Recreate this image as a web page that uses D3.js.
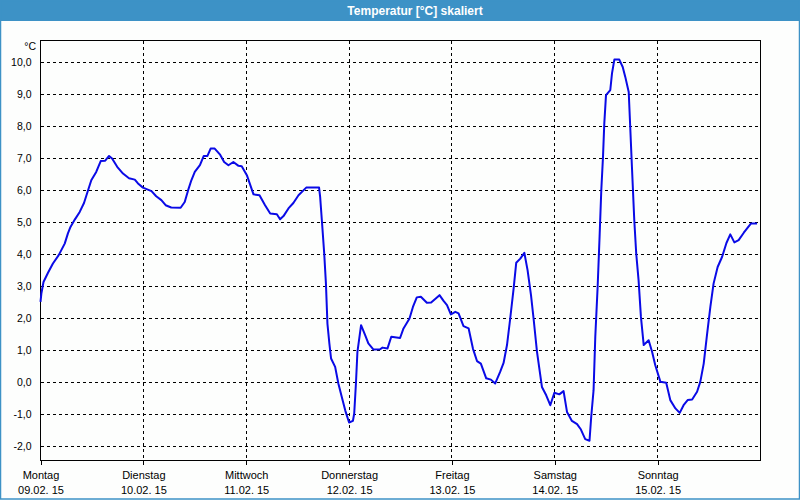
<!DOCTYPE html>
<html><head><meta charset="utf-8">
<script src="https://cdn.jsdelivr.net/npm/d3@7"></script>
<style>
html,body{margin:0;padding:0;background:#fff;}
svg{display:block;}
text{font-family:"Liberation Sans",Arial,sans-serif;}
</style></head>
<body>
<svg id="chart" width="800" height="500"></svg>
<script>
// ---- data ----
const title = "Temperatur [°C] skaliert";
const unitLabel = "°C";
const startDate = new Date(2015, 1, 9, 0, 0);
const dayNames = ["Montag","Dienstag","Mittwoch","Donnerstag","Freitag","Samstag","Sonntag"];
const dayDates = ["09.02. 15","10.02. 15","11.02. 15","12.02. 15","13.02. 15","14.02. 15","15.02. 15"];
const yTicks = [-2,-1,0,1,2,3,4,5,6,7,8,9,10];
// hours since Montag 09.02.15 00:00
const hours = [0.0,0.2,0.7,1.75,2.9,4.25,5.65,6.4,7.0,8.0,9.15,10.15,11.1,11.85,13.0,14.05,15.1,16.0,16.7,17.9,19.25,20.65,22.0,22.75,23.9,
 25.9,27.0,28.2,29.2,30.5,32.7,33.65,34.45,35.2,36.0,37.2,38.1,38.95,39.7,40.65,41.85,42.85,43.85,45.0,46.2,46.95,
 48.15,49.7,51.1,52.4,53.6,55.15,55.9,56.7,57.85,59.0,60.2,62.0,65.0,65.25,65.65,66.2,66.6,66.95,67.4,67.8,68.75,69.5,70.3,71.1,
 72.0,72.9,73.2,73.6,73.95,74.8,75.75,76.5,77.7,79.25,79.8,80.95,81.85,83.9,84.7,86.1,86.9,87.8,88.75,90.15,91.15,93.1,94.05,94.85,95.75,
 96.8,97.55,98.7,99.9,100.9,101.85,102.75,104.0,105.1,106.1,107.25,108.05,108.85,109.6,110.4,111.0,111.95,112.9,113.65,114.45,115.05,115.85,117.0,118.0,118.95,
 119.9,121.05,122.05,122.85,124.0,125.2,126.1,127.1,128.1,128.5,129.05,129.45,130.0,130.45,130.85,131.25,131.55,131.95,132.95,133.35,133.9,135.05,135.85,136.45,137.25,137.6,138.0,138.55,139.0,139.55,140.1,140.75,141.9,142.7,143.45,
 144.65,146.0,146.95,148.15,149.15,150.05,151.0,152.05,153.2,153.95,154.75,155.55,156.3,157.05,158.0,159.05,160.05,160.95,161.9,162.9,164.1,165.8,167.2];
const temps = [2.52,2.78,3.14,3.43,3.72,3.98,4.34,4.66,4.86,5.09,5.33,5.61,6.01,6.32,6.58,6.92,6.93,7.08,7.0,6.74,6.53,6.38,6.34,6.22,6.09,
 5.98,5.82,5.70,5.54,5.47,5.46,5.64,6.01,6.32,6.58,6.79,7.08,7.08,7.31,7.31,7.13,6.89,6.79,6.89,6.77,6.76,
 6.48,5.88,5.85,5.54,5.28,5.26,5.10,5.20,5.44,5.61,5.85,6.09,6.09,5.80,5.07,4.03,3.09,1.84,1.22,0.75,0.49,-0.03,-0.45,-0.87,
 -1.25,-1.20,-0.97,-0.03,0.96,1.79,1.48,1.22,1.03,1.04,1.09,1.06,1.43,1.39,1.69,2.0,2.36,2.66,2.68,2.49,2.50,2.73,2.55,2.42,2.13,
 2.21,2.16,1.76,1.69,1.06,0.67,0.59,0.13,0.09,-0.03,0.33,0.61,1.17,2.0,2.94,3.74,3.87,4.05,3.51,2.73,2.0,0.96,-0.14,-0.40,-0.71,
 -0.32,-0.37,-0.27,-0.92,-1.20,-1.30,-1.47,-1.77,-1.82,-1.07,-0.24,1.43,2.99,4.55,6.01,7.05,8.09,8.98,9.14,9.66,10.09,10.09,9.86,9.55,9.08,7.99,6.74,5.07,4.03,3.20,2.05,1.17,1.32,0.96,0.54,
 0.02,-0.01,-0.55,-0.81,-0.95,-0.71,-0.55,-0.53,-0.29,0.02,0.59,1.53,2.36,3.09,3.61,3.93,4.36,4.63,4.38,4.45,4.68,4.97,4.97];

// ---- layout ----
const W = 800, H = 500;
const pL = 40.5, pR = 760.5, pT = 40.5, pB = 460.5;
const svg = d3.select("#chart");

const endDate = d3.timeDay.offset(startDate, 7);
const x = d3.scaleTime().domain([startDate, endDate]).range([pL, pR]);
// 10 -> 62.5, 32 px per degree
const y = d3.scaleLinear().domain([(382.5 - pB) / 32, (382.5 - pT) / 32]).range([pB, pT]);

const data = hours.map((h, i) => ({t: new Date(startDate.getTime() + h * 3600000), v: temps[i]}));
const days = d3.range(8).map(i => d3.timeDay.offset(startDate, i));

// background & frame
svg.append("rect").attr("x", 0).attr("y", 0).attr("width", W).attr("height", H).attr("fill", "#fdfefd");
svg.append("rect").attr("x", 0).attr("y", 0).attr("width", W).attr("height", 21).attr("fill", "#3d92c6");
svg.append("rect").attr("x", 0.5).attr("y", 0.5).attr("width", W - 1).attr("height", H - 1.5)
  .attr("fill", "none").attr("stroke", "#3d92c6").attr("stroke-width", 1.5);
svg.append("text").attr("x", 415).attr("y", 15).attr("text-anchor", "middle")
  .attr("fill", "#fff").attr("font-weight", "bold").attr("font-size", 12).text(title);

// grid
const grid = svg.append("g").attr("shape-rendering", "crispEdges");
grid.selectAll("line.h").data(yTicks).join("line").attr("class", "h")
  .attr("x1", pL).attr("x2", pR).attr("y1", d => y(d)).attr("y2", d => y(d))
  .attr("stroke", "#000").attr("stroke-dasharray", "3,3");
grid.selectAll("line.v").data(days.slice(1, 7)).join("line").attr("class", "v")
  .attr("x1", d => x(d)).attr("x2", d => x(d)).attr("y1", pT).attr("y2", pB)
  .attr("stroke", "#000").attr("stroke-dasharray", "3,3");

// frame of plot
svg.append("rect").attr("x", pL).attr("y", pT).attr("width", pR - pL).attr("height", pB - pT)
  .attr("fill", "none").attr("stroke", "#000").attr("shape-rendering", "crispEdges");

// bottom axis
const xAxis = d3.axisBottom(x).tickValues(days.slice(0, 7)).tickSize(4).tickFormat(() => "");
const gx = svg.append("g").attr("transform", `translate(0,${pB})`).call(xAxis);
gx.select(".domain").remove();
gx.selectAll(".tick line").attr("stroke", "#000").attr("shape-rendering", "crispEdges");
gx.selectAll(".tick").each(function(d, i) {
  const g = d3.select(this);
  g.append("text").attr("y", 18).attr("text-anchor", "middle").attr("fill", "#000")
    .attr("font-size", 11).text(dayNames[i]);
  g.append("text").attr("y", 33).attr("text-anchor", "middle").attr("fill", "#000")
    .attr("font-size", 11).text(dayDates[i]);
});

// left axis labels
const yAxis = d3.axisLeft(y).tickValues(yTicks).tickSize(0).tickPadding(9)
  .tickFormat(d => d3.format(".1f")(d).replace(".", ",").replace("−", "-"));
const gy = svg.append("g").attr("transform", `translate(${pL},0)`).call(yAxis);
gy.select(".domain").remove();
gy.selectAll(".tick text").attr("font-size", 10.5).attr("fill", "#000")
  .attr("font-family", "'Liberation Sans',Arial,sans-serif");
svg.append("text").attr("x", 36).attr("y", 50).attr("text-anchor", "end")
  .attr("font-size", 10.5).attr("fill", "#000").text(unitLabel);

// line
const line = d3.line().x(d => x(d.t)).y(d => y(d.v));
svg.append("path").datum(data).attr("d", line).attr("fill", "none")
  .attr("stroke", "#0a0ae6").attr("stroke-width", 2).attr("stroke-linejoin", "round");
</script>
</body></html>
